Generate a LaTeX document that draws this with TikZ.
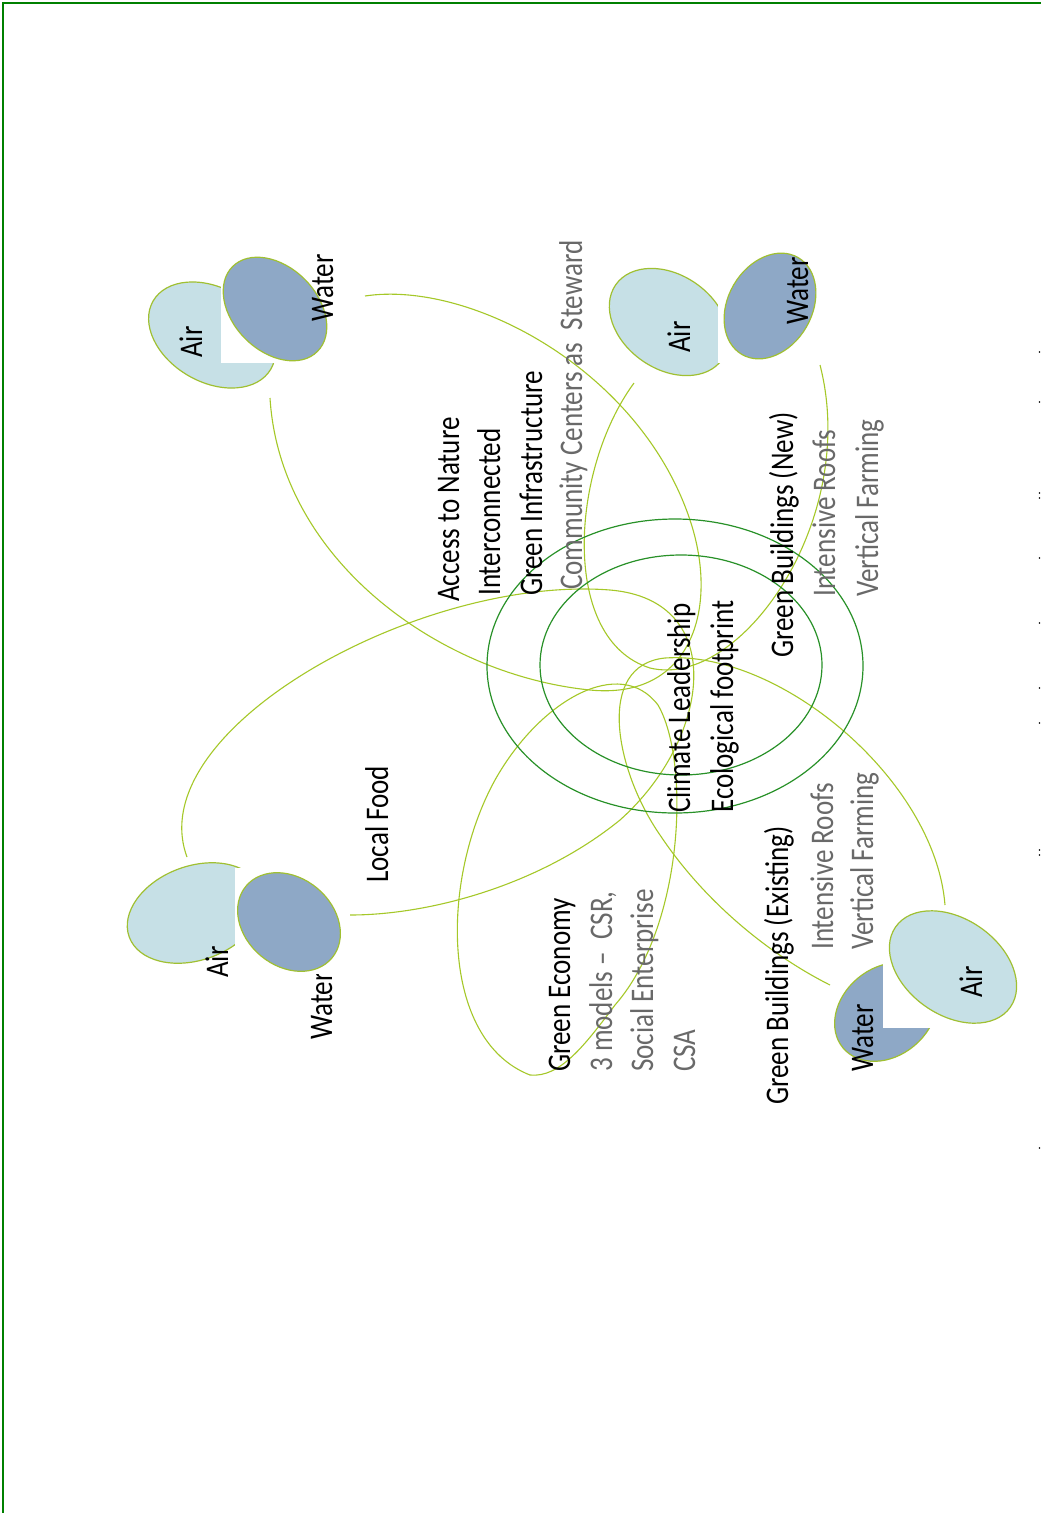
\documentclass[tikz,border=0pt]{standalone}
\usepackage{fontspec}
\setmainfont{Carlito}[FakeStretch=0.82]
\definecolor{airc}{RGB}{198,224,230}
\definecolor{waterc}{RGB}{142,168,198}
\definecolor{rimc}{RGB}{160,192,50}
\definecolor{loopc}{RGB}{165,200,40}
\definecolor{ringc}{RGB}{40,145,40}
\definecolor{subc}{RGB}{105,105,105}
\definecolor{framec}{RGB}{0,128,0}
\begin{document}
\begin{tikzpicture}[x=1pt,y=-1pt,
 lbl/.style={rotate=90,anchor=base west,inner sep=0pt,font=\fontsize{33}{40}\selectfont,text=black},
 sub/.style={lbl,text=subc},
 air/.style={fill=airc,draw=rimc,line width=1.2pt},
 water/.style={fill=waterc,draw=rimc,line width=1.2pt},
 loopline/.style={draw=loopc,line width=1.1pt},
 ring/.style={draw=ringc,line width=1.2pt},
 blank/.style={fill=white}]
\useasboundingbox (0,0) rectangle (1041,1513);
\fill[white] (0,0) rectangle (1041,1513);
\draw[framec,line width=2pt] (3,1513) -- (3,3) -- (1041,3);
% right edge dots
\foreach \yy in {352,402,493,498,558,623,688,723,850,855,1148}
  \fill[black] (1039.5,\yy) circle[radius=0.8pt];

% loop end points
\coordinate (l1a) at (365,296);
\coordinate (l1b) at (270,398);
\coordinate (l2a) at (634,383);
\coordinate (l2b) at (820,365);
\coordinate (l3a) at (187,857);
\coordinate (l3b) at (350,915);
\coordinate (l4a) at (945,905);
\coordinate (l4b) at (830,985);
\coordinate (l5a) at (530,1075);

% loops
\path[loopline] (l1a) .. controls (470,280) and (640,370) .. (690,520)
  .. controls (720,610) and (690,700) .. (590,690)
  .. controls (440,675) and (280,560) .. (l1b);
\path[loopline] (l2a) .. controls (570,470) and (560,640) .. (650,668)
  .. controls (740,690) and (860,520) .. (l2b);
\path[loopline] (l3a) .. controls (140,730) and (420,575) .. (610,590)
  .. controls (730,600) and (710,740) .. (620,820)
  .. controls (540,885) and (430,915) .. (l3b);
\path[loopline] (l4a) .. controls (935,780) and (780,650) .. (665,658)
  .. controls (595,665) and (615,770) .. (660,835)
  .. controls (710,910) and (780,960) .. (l4b);
\path[loopline] (l5a) .. controls (440,1040) and (440,880) .. (495,780)
  .. controls (540,700) and (620,655) .. (658,705)
  .. controls (690,760) and (685,925) .. (615,1005)
  .. controls (585,1045) and (560,1078) .. (l5a);

% rings
\path[ring] (675,666) ellipse [x radius=188pt, y radius=147pt];
\path[ring] (681,665) ellipse [x radius=141pt, y radius=110pt];

% group 1
\path[air,rotate around={-30:(212,335)}] (212,335) ellipse [x radius=68pt, y radius=47pt];
\fill[white] (221,258) rectangle (327,363);
\path[water,rotate around={-45:(275,309)}] (275,309) ellipse [x radius=60pt, y radius=42pt];
\node[lbl] (g1air) at (202,358) {Air};
\node[lbl] (g1water) at (333,322) {Water};

% group 2
\path[air,rotate around={-35:(669,322)}] (669,322) ellipse [x radius=65pt, y radius=47pt];
\fill[white] (718,253) rectangle (820,363);
\path[water,rotate around={60:(770,306)}] (770,306) ellipse [x radius=56pt, y radius=42pt];
\node[lbl] (g2air) at (690,353) {Air};
\node[lbl] (g2water) at (808,325) {Water};

% group 3
\path[air,rotate around={20:(195,913)}] (195,913) ellipse [x radius=70pt, y radius=47pt];
\node[lbl] (g3air) at (228,978) {Air};
\node[lbl] (g3water) at (332,1040) {Water};
\fill[white] (235,868) rectangle (340,974);
\path[water,rotate around={-40:(289,922)}] (289,922) ellipse [x radius=56pt, y radius=44pt];

% group 4
\path[water,rotate around={40:(886,1012)}] (886,1012) ellipse [x radius=56pt, y radius=44pt];
\node[lbl] (g4water) at (873,1072) {Water};
\fill[white] (883,910) rectangle (1022,1028);
\path[air,rotate around={-35:(953,967)}] (953,967) ellipse [x radius=70pt, y radius=48pt];
\node[lbl] (g4air) at (982,998) {Air};

% texts
\node[lbl] (t1) at (459,602) {Access to Nature};
\node[lbl] (t2) at (500,596) {Interconnected};
\node[lbl] (t3) at (542,596) {Green Infrastructure};
\node[sub] (t4) at (582,590) {Community Centers as\ \ Steward};
\node[lbl] (t5) at (793,658) {Green Buildings (New)};
\node[sub] (t6) at (835,597) {Intensive Roofs};
\node[sub] (t7) at (878,597) {Vertical Farming};
\node[lbl] (t8) at (690,813) {Climate Leadership};
\node[lbl] (t9) at (733,813) {Ecological footprint};
\node[lbl] (t10) at (388,883) {Local Food};
\node[lbl] (t11) at (570,1072) {Green Economy};
\node[sub] (t12) at (612,1072) {3 models --\ \ CSR,};
\node[sub] (t13) at (653,1072) {Social Enterprise};
\node[sub] (t14) at (695,1072) {CSA};
\node[lbl] (t15) at (788,1105) {Green Buildings (Existing)};
\node[sub] (t16) at (833,950) {Intensive Roofs};
\node[sub] (t17) at (873,950) {Vertical Farming};
\end{tikzpicture}
\end{document}
